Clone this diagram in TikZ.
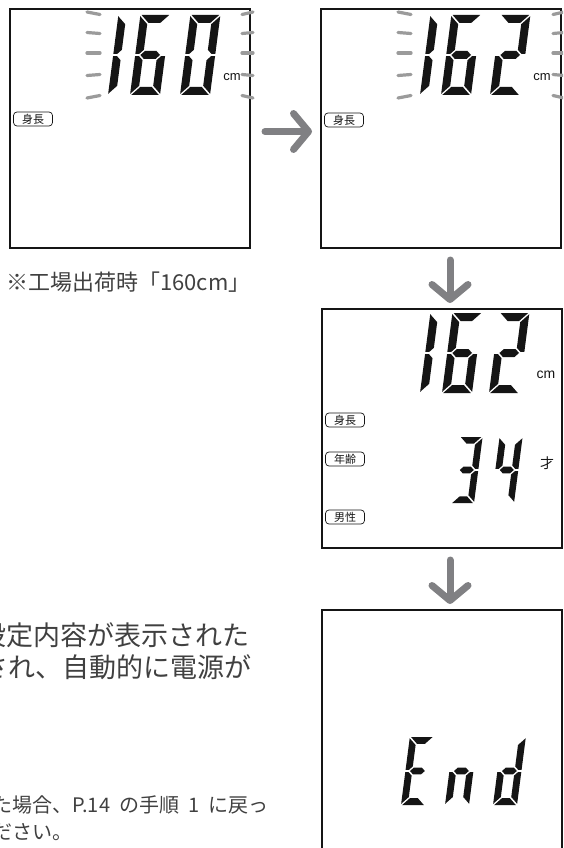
\documentclass[tikz,border=0pt]{standalone}
\usepackage{fontspec}
\newfontfamily\jpfont{Noto Sans CJK JP}
\newfontfamily\lcdsans{Liberation Sans}
\usetikzlibrary{arrows.meta,calc,positioning}
\definecolor{ink}{HTML}{151515}
\definecolor{textgray}{HTML}{404040}
\definecolor{arrowgray}{HTML}{808083}
\definecolor{blinkgray}{HTML}{9B9B9B}
\tikzset{
  lcdbox/.style={draw=ink,line width=1.6pt,fill=white,anchor=north west,outer sep=0pt,inner sep=0pt,minimum width=240pt,minimum height=239pt},
  badge/.style={draw=ink,line width=0.7pt,rounded corners=3.5pt,minimum width=39pt,minimum height=14pt,inner sep=0pt,font=\jpfont\fontsize{11}{11}\selectfont,text=ink},
  segment/.style={fill=ink},
  blink/.style={draw=blinkgray,line width=3.2pt,line cap=round},
  unit/.style={font=\lcdsans\fontsize{13}{13}\selectfont,text=ink,inner sep=0pt},
  steparrow/.style={draw=arrowgray,line width=7pt,line cap=round,-{Straight Barb[round,length=15pt,width=36pt]}},
  notetext/.style={anchor=west,inner sep=0pt,text=textgray,font=\jpfont\fontsize{22}{26}\selectfont},
  bodytext/.style={anchor=west,inner sep=0pt,text=textgray,font=\jpfont\fontsize{27}{32}\selectfont},
  smalltext/.style={anchor=west,inner sep=0pt,text=textgray,font=\jpfont\fontsize{20}{27}\selectfont}
}
\newcommand\lcdsega{\fill[segment] (\seggap,\digh) -- (\digw-\seggap,\digh) -- (\digw-\segt-\seggap,\digh-\segt) -- (\segt+\seggap,\digh-\segt) -- cycle;}
\newcommand\lcdsegd{\fill[segment] (\seggap,0) -- (\digw-\seggap,0) -- (\digw-\segt-\seggap,\segt) -- (\segt+\seggap,\segt) -- cycle;}
\newcommand\lcdsegg{\fill[segment] (\segt/2+\seggap,\digh/2) -- (\segt+\seggap,\digh/2+\segt/2) -- (\digw-\segt-\seggap,\digh/2+\segt/2) -- (\digw-\segt/2-\seggap,\digh/2) -- (\digw-\segt-\seggap,\digh/2-\segt/2) -- (\segt+\seggap,\digh/2-\segt/2) -- cycle;}
\newcommand\lcdsegf{\fill[segment] (0,\digh/2+\seggap) -- (0,\digh-\seggap) -- (\segt,\digh-\segt-\seggap) -- (\segt,\digh/2+\segt/2+\seggap) -- (\segt/2,\digh/2+\seggap) -- cycle;}
\newcommand\lcdsege{\fill[segment] (0,\digh/2-\seggap) -- (0,\seggap) -- (\segt,\segt+\seggap) -- (\segt,\digh/2-\segt/2-\seggap) -- (\segt/2,\digh/2-\seggap) -- cycle;}
\newcommand\lcdsegb{\fill[segment] (\digw,\digh/2+\seggap) -- (\digw,\digh-\seggap) -- (\digw-\segt,\digh-\segt-\seggap) -- (\digw-\segt,\digh/2+\segt/2+\seggap) -- (\digw-\segt/2,\digh/2+\seggap) -- cycle;}
\newcommand\lcdsegc{\fill[segment] (\digw,\digh/2-\seggap) -- (\digw,\seggap) -- (\digw-\segt,\segt+\seggap) -- (\digw-\segt,\digh/2-\segt/2-\seggap) -- (\digw-\segt/2,\digh/2-\seggap) -- cycle;}
\newcommand\lcddigit[5]{%
  \begin{scope}[shift={(#1,#2)},yscale=-1,xslant=-0.13]
    \pgfmathsetmacro\digh{#3}\pgfmathsetmacro\digw{#4}\pgfmathsetmacro\segt{#3/10}\def\seggap{1.2}
    \foreach \segname in {#5} {\csname lcdseg\segname\endcsname}
  \end{scope}}

\begin{document}
\begin{tikzpicture}[x=1pt,y=-1pt]
  \useasboundingbox (0,0) rectangle (563,848);
  \clip (0,0) rectangle (563,848);

  \node[lcdbox] (b1) at (10,9) {};
  \node[lcdbox] (b2) at (321,9) {};
  \node[lcdbox] (b3) at (322,309) {};
  \node[lcdbox,minimum height=270pt] (b4) at (322,610) {};

  \begin{scope}[shift={(b1.north west)}]
    \lcddigit{98}{86}{80}{30}{e,f}
    \lcddigit{120}{86}{80}{30}{a,c,d,e,f,g}
    \lcddigit{170}{86}{80}{30}{a,b,c,d,e,f}
    \node[unit] (cm1) at (222,68) {cm};
    \node[badge] (h1) at (23,110) {身長};
    \foreach \ya/\yb in {3/5.5,23.5/24.5,44/44,66.5/65.5,89/86.5} {
      \draw[blink] (77,\ya) -- (90,\yb);
      \draw[blink] (232,\yb) -- (243,\ya);
    }
  \end{scope}

  \begin{scope}[shift={(b2.north west)}]
    \lcddigit{99}{86}{80}{30}{e,f}
    \lcddigit{120}{86}{80}{30}{a,c,d,e,f,g}
    \lcddigit{169}{86}{80}{30}{a,b,g,e,d}
    \node[unit] (cm2) at (221,68) {cm};
    \node[badge] (h2) at (23,111) {身長};
    \foreach \ya/\yb in {3/5.5,23.5/24.5,44/44,66.5/65.5,89/86.5} {
      \draw[blink] (77,\ya) -- (90,\yb);
      \draw[blink] (232,\yb) -- (243,\ya);
    }
  \end{scope}

  \begin{scope}[shift={(b3.north west)}]
    \lcddigit{98}{84}{80}{30}{e,f}
    \lcddigit{120}{84}{80}{30}{a,c,d,e,f,g}
    \lcddigit{167}{84}{80}{30}{a,b,g,e,d}
    \node[unit,font=\lcdsans\fontsize{14}{14}\selectfont] (cm3) at (224,66) {cm};
    \lcddigit{129}{194}{66}{23}{a,b,c,d,g}
    \lcddigit{169}{194}{66}{23}{f,g,b,c}
    \node[unit,font=\jpfont\fontsize{14}{14}\selectfont] (age) at (225,154) {才};
    \node[badge] (h3) at (23,111) {身長};
    \node[badge] (a3) at (23,150) {年齢};
    \node[badge] (s3) at (23,208) {男性};
  \end{scope}

  \begin{scope}[shift={(b4.north west)}]
    \lcddigit{79}{195}{68}{24}{a,d,e,f,g}
    \lcddigit{123}{195}{68}{24}{c,e,g}
    \lcddigit{171}{195}{68}{24}{b,c,d,e,g}
  \end{scope}

  \draw[steparrow] ([xshift=15pt,yshift=-3pt]b1.east) -- ([xshift=-9pt,yshift=-3pt]b2.west);
  \draw[steparrow] ([xshift=9pt,yshift=-12pt]b2.south) -- ([xshift=8pt,yshift=6pt]b3.north);
  \draw[steparrow] ([xshift=8pt,yshift=-12pt]b3.south) -- ([xshift=8pt,yshift=6pt]b4.north);

  \node[notetext] (note) at (6,282) {※工場出荷時「160cm」};
  \node[bodytext] (l1) at (-21,635) {設定内容が表示された};
  \node[bodytext] (l2) at (-19,667) {され、自動的に電源が};
  \node[smalltext] (l3) at (-8,805) {た場合、P.14\hspace{0.45em}の手順\hspace{0.45em}1\hspace{0.45em}に戻っ};
  \node[smalltext] (l4) at (-8,832) {ださい。};
\end{tikzpicture}
\end{document}
